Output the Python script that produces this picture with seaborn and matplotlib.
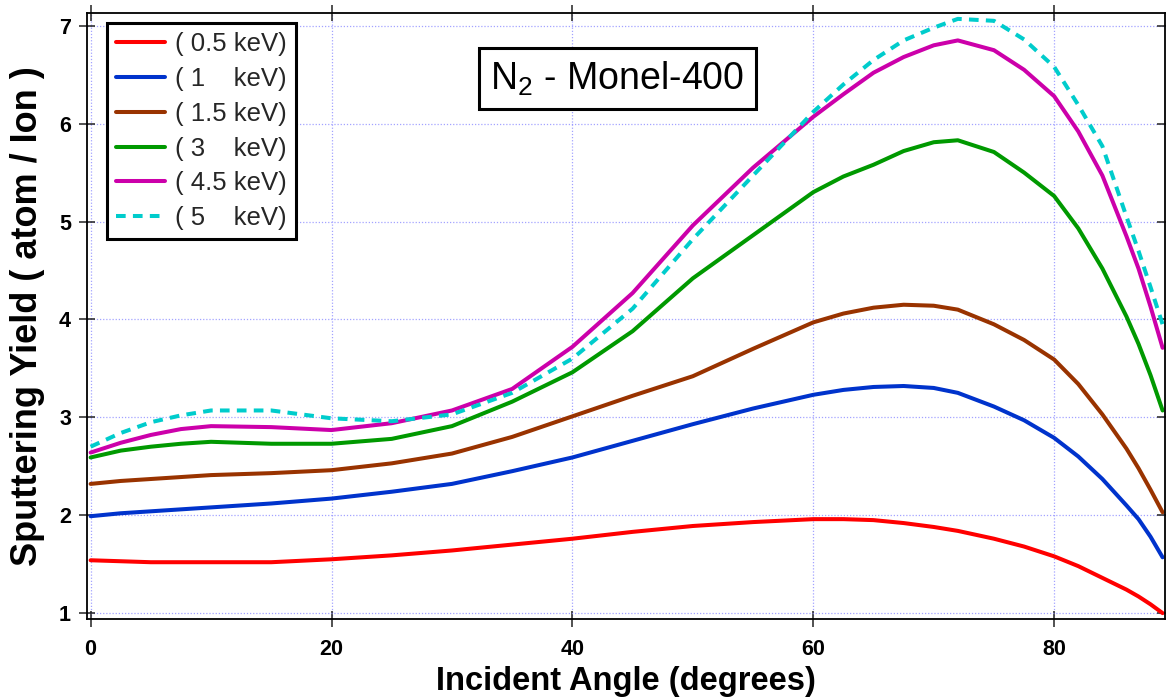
import numpy as np
import pandas as pd
import matplotlib
matplotlib.use("Agg")
import matplotlib.pyplot as plt
from matplotlib import font_manager
import seaborn as sns

# ---- data ----
angles = [0, 2.5, 5, 7.5, 10, 15, 20, 25, 30, 35, 40, 45, 50, 55, 60, 62.5, 65, 67.5, 70, 72, 75, 77.5, 80, 82, 84, 86, 87, 88, 89]
y_05 = [1.54, 1.53, 1.52, 1.52, 1.52, 1.52, 1.55, 1.59, 1.64, 1.70, 1.76, 1.83, 1.89, 1.93, 1.96, 1.96, 1.95, 1.92, 1.88, 1.84, 1.76, 1.68, 1.58, 1.48, 1.36, 1.24, 1.17, 1.09, 1.00]
y_1 = [1.99, 2.02, 2.04, 2.06, 2.08, 2.12, 2.17, 2.24, 2.32, 2.45, 2.59, 2.76, 2.93, 3.09, 3.23, 3.28, 3.31, 3.32, 3.30, 3.25, 3.11, 2.97, 2.79, 2.60, 2.37, 2.10, 1.96, 1.78, 1.57]
y_15 = [2.32, 2.35, 2.37, 2.39, 2.41, 2.43, 2.46, 2.53, 2.63, 2.80, 3.01, 3.22, 3.42, 3.70, 3.97, 4.06, 4.12, 4.15, 4.14, 4.10, 3.95, 3.79, 3.59, 3.34, 3.03, 2.68, 2.48, 2.26, 2.03]
y_3 = [2.59, 2.66, 2.70, 2.73, 2.75, 2.73, 2.73, 2.78, 2.91, 3.16, 3.46, 3.88, 4.42, 4.86, 5.30, 5.46, 5.58, 5.72, 5.81, 5.83, 5.71, 5.50, 5.26, 4.93, 4.52, 4.03, 3.75, 3.43, 3.07]
y_45 = [2.64, 2.74, 2.82, 2.88, 2.91, 2.90, 2.87, 2.94, 3.07, 3.29, 3.72, 4.27, 4.96, 5.55, 6.07, 6.30, 6.52, 6.68, 6.80, 6.85, 6.75, 6.55, 6.28, 5.92, 5.47, 4.85, 4.52, 4.13, 3.71]
y_5 = [2.70, 2.84, 2.95, 3.02, 3.07, 3.07, 2.99, 2.96, 3.03, 3.25, 3.60, 4.11, 4.82, 5.47, 6.12, 6.40, 6.65, 6.85, 6.98, 7.07, 7.05, 6.86, 6.58, 6.19, 5.77, 5.05, 4.70, 4.33, 3.95]

labels = ["( 0.5 keV)", "( 1    keV)", "( 1.5 keV)", "( 3    keV)", "( 4.5 keV)", "( 5    keV)"]
colors = ["#ff0000", "#0033cc", "#993300", "#009900", "#cc00aa", "#00cccc"]
series = [y_05, y_1, y_15, y_3, y_45, y_5]

x_ticks = [0, 20, 40, 60, 80]
y_ticks = [1, 2, 3, 4, 5, 6, 7]

title_text = "N$_2$ - Monel-400"
x_label = "Incident Angle (degrees)"
y_label = "Sputtering Yield ( atom / Ion )"

# ---- fonts ----
available = {f.name for f in font_manager.fontManager.ttflist}
def pick(*names):
    for n in names:
        if n in available:
            return n
    return "DejaVu Sans"

font = pick("Liberation Sans", "Arial", "DejaVu Sans")

sns.set_theme(style="white")
plt.rcParams["font.family"] = [font, "DejaVu Sans"]
plt.rcParams["mathtext.fontset"] = "custom"
plt.rcParams["mathtext.rm"] = font
plt.rcParams["mathtext.it"] = font

fig = plt.figure(figsize=(11.66, 6.99), dpi=100)
ax = fig.add_axes([87 / 1166, 80 / 699, 1078 / 1166, 606 / 699])

for yv, lab, col in zip(series, labels, colors):
    df = pd.DataFrame({"angle": angles, "yield": yv})
    ls = "--" if lab.startswith("( 5") else "-"
    sns.lineplot(data=df, x="angle", y="yield", color=col, linewidth=2.9,
                 label=lab, ax=ax, linestyle=ls)
for ln in ax.get_lines():
    if ln.get_linestyle() == "--":
        ln.set_dashes((2.4, 1.8))
    ln.set_solid_joinstyle("round")

ax.set_xlim(-0.3, 89.2)
ax.set_ylim(0.94, 7.13)
ax.set_xticks(x_ticks)
ax.set_yticks(y_ticks)
ax.grid(True, color="#8c8cff", linestyle=(0, (1, 1.5)), linewidth=0.9, alpha=0.8)

for s in ax.spines.values():
    s.set_color("black")
    s.set_linewidth(1.3)

ax.tick_params(axis="both", which="major", direction="inout", length=11, width=1.1,
               color="#222222", top=True, right=True, bottom=True, left=True)
ax.tick_params(axis="x", pad=9)
ax.tick_params(axis="y", pad=6)
for t in ax.get_xticklabels() + ax.get_yticklabels():
    t.set_fontweight("bold")
    t.set_fontsize(15.5)
    t.set_color("black")

ax.set_xlabel(x_label, fontsize=23.5, fontweight="bold", labelpad=4, color="black")
ax.set_ylabel(y_label, fontsize=26, fontweight="bold", labelpad=10, color="black")

leg = ax.legend(loc="upper left", bbox_to_anchor=(0.0186, 0.983), borderaxespad=0,
                prop={"size": 18.5}, frameon=True, fancybox=False,
                handlelength=1.9, handletextpad=0.4, labelspacing=0.42,
                borderpad=0.35, edgecolor="black", shadow=False)
leg.get_frame().set_linewidth(2.2)
leg.get_frame().set_facecolor("white")
leg.get_frame().set_alpha(1)

ax.text(0.492, 0.892, title_text, transform=ax.transAxes, ha="center", va="center",
        fontsize=27, color="black",
        bbox=dict(boxstyle="square,pad=0.3", facecolor="white", edgecolor="black", linewidth=2.2))

fig.savefig("out.png", dpi=100)
